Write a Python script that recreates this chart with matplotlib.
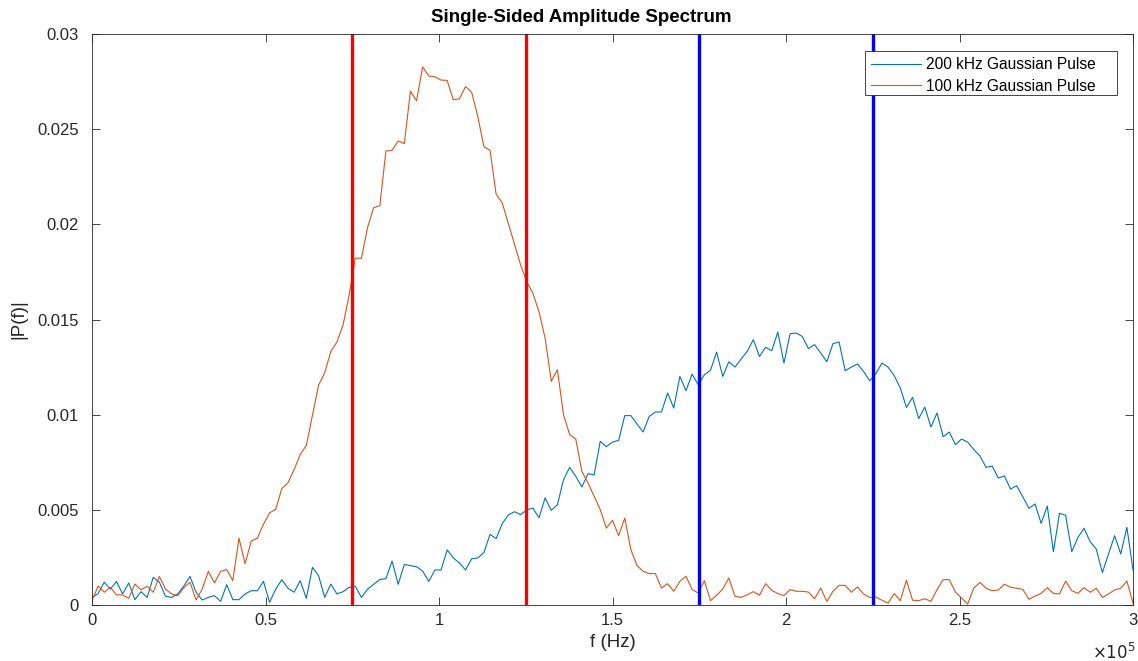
import numpy as np
import matplotlib
matplotlib.use("Agg")
import matplotlib.pyplot as plt
from matplotlib.patches import Rectangle

# ---- data ----
f_max = 3e5
n_bins = 170
freq = np.linspace(0, f_max, n_bins + 1)

pulse_200k = [
    0.0004, 0.0006, 0.0012, 0.00084, 0.00123, 0.00058, 0.00116, 0.00028, 0.0007, 0.0004,
    0.00145, 0.0012, 0.00046, 0.0004, 0.00058, 0.001, 0.0015, 0.00067, 0.00026, 0.0004,
    0.00049, 0.00019, 0.00107, 0.00028, 0.00028, 0.00058, 0.00075, 0.00075, 0.00124, 0.00014,
    0.00084, 0.00133, 0.00088, 0.00067, 0.00128, 0.00035, 0.00198, 0.00154, 0.0004, 0.0011,
    0.00058, 0.0007, 0.00093, 0.00098, 0.0004, 0.00083, 0.00109, 0.00134, 0.00138, 0.00231,
    0.00109, 0.00213, 0.00207, 0.00201, 0.00178, 0.00124, 0.00184, 0.00184, 0.0029, 0.00247,
    0.00221, 0.00184, 0.00243, 0.00247, 0.00276, 0.00371, 0.00349, 0.00428, 0.00474, 0.0049,
    0.00474, 0.005, 0.00509, 0.00458, 0.00563, 0.00497, 0.00527, 0.00658, 0.00723, 0.00676,
    0.0062, 0.0069, 0.00683, 0.0086, 0.00832, 0.00856, 0.00865, 0.00995, 0.00995, 0.00951,
    0.00909, 0.00991, 0.01014, 0.01014, 0.01114, 0.01035, 0.01201, 0.01126, 0.01213, 0.01157,
    0.0121, 0.01233, 0.01329, 0.01201, 0.01278, 0.0125, 0.01292, 0.01333, 0.01394, 0.01306,
    0.01354, 0.01336, 0.01434, 0.01271, 0.01425, 0.01429, 0.01411, 0.01347, 0.01368, 0.01324,
    0.01278, 0.01373, 0.01382, 0.01231, 0.0125, 0.01266, 0.01227, 0.01178, 0.01215, 0.01271,
    0.0125, 0.01205, 0.0114, 0.01038, 0.01091, 0.00979, 0.0104, 0.00935, 0.01009, 0.00884,
    0.00909, 0.00842, 0.00872, 0.00856, 0.00816, 0.00784, 0.00723, 0.0073, 0.00667, 0.00678,
    0.00609, 0.00627, 0.00569, 0.00508, 0.00531, 0.00429, 0.0052, 0.0028, 0.00482, 0.00471,
    0.0028, 0.00355, 0.00403, 0.00333, 0.00294, 0.0017, 0.00268, 0.00364, 0.00268, 0.00408,
    0.00184,
]

pulse_100k = [
    0.00023, 0.001, 0.00067, 0.00093, 0.00053, 0.00053, 0.00035, 0.0011, 0.0008, 0.00098,
    0.00067, 0.0015, 0.00084, 0.00058, 0.00049, 0.0009, 0.0012, 0.00026, 0.00084, 0.00177,
    0.00116, 0.00177, 0.00186, 0.00128, 0.00351, 0.00217, 0.00336, 0.00351, 0.00424, 0.00484,
    0.00503, 0.00612, 0.00642, 0.00711, 0.0079, 0.00839, 0.00997, 0.01155, 0.0122, 0.01332,
    0.01382, 0.01471, 0.0163, 0.01822, 0.01822, 0.01984, 0.02088, 0.02098, 0.02385, 0.02389,
    0.02438, 0.02424, 0.027, 0.02649, 0.02827, 0.02779, 0.02775, 0.02758, 0.02756, 0.02655,
    0.02659, 0.02724, 0.02694, 0.02566, 0.02408, 0.02389, 0.02158, 0.02112, 0.02004, 0.01895,
    0.01786, 0.01698, 0.01638, 0.0154, 0.01401, 0.01175, 0.01236, 0.01, 0.00895, 0.00872,
    0.00702, 0.00641, 0.00571, 0.00501, 0.00404, 0.00445, 0.00364, 0.00457, 0.00291, 0.00207,
    0.00177, 0.00165, 0.00165, 0.00089, 0.00112, 0.00072, 0.00124, 0.00151, 0.00081, 0.00063,
    0.00128, 0.00023, 0.00051, 0.00084, 0.00142, 0.00046, 0.0004, 0.00054, 0.0007, 0.00051,
    0.00112, 0.00077, 0.0006, 0.00049, 0.00081, 0.00072, 0.00072, 0.00068, 0.00033, 0.00089,
    0.00019, 0.00072, 0.00103, 0.00103, 0.00067, 0.00095, 0.00058, 0.0004, 0.00042, 0.00025,
    0.0001, 0.0006, 0.00023, 0.0013, 0.00025, 0.00023, 0.00033, 0.00019, 0.00081, 0.00133,
    0.00133, 0.00068, 0.00037, 0.00005, 0.00089, 0.00119, 0.00088, 0.00075, 0.00079, 0.00109,
    0.00093, 0.00088, 0.00082, 0.0003, 0.00047, 0.00061, 0.00091, 0.00061, 0.00058, 0.00126,
    0.00075, 0.00061, 0.00091, 0.00067, 0.00088, 0.0004, 0.00058, 0.00079, 0.00088, 0.00126,
    0.00009,
]

red_band = [75000, 125000]
blue_band = [175000, 225000]
series_labels = ["200 kHz Gaussian Pulse", "100 kHz Gaussian Pulse"]
xtick_vals = [0, 0.5, 1, 1.5, 2, 2.5, 3]
ytick_vals = [0, 0.005, 0.01, 0.015, 0.02, 0.025, 0.03]

# ---- figure ----
W, H = 1138, 661
plt.rcParams['font.family'] = ['Liberation Sans', 'DejaVu Sans']
fig = plt.figure(figsize=(W / 100, H / 100), dpi=100)
ax = fig.add_axes([92 / W, 56 / H, 1041 / W, 571 / H])

ax.plot(freq, pulse_200k, color='#0072BD', lw=0.8, label=series_labels[0])
ax.plot(freq, pulse_100k, color='#D95319', lw=0.8, label=series_labels[1])
for xv in red_band:
    ax.axvline(xv, color='#FF0000', lw=2.4)
for xv in blue_band:
    ax.axvline(xv, color='#0000FF', lw=2.4)

ax.set_xlim(0, f_max)
ax.set_ylim(0, 0.03)
ax.set_xticks([v * 1e5 for v in xtick_vals])
ax.set_xticklabels([f"{v:g}" for v in xtick_vals])
ax.set_yticks(ytick_vals)
ax.set_yticklabels([f"{v:g}" for v in ytick_vals])
ax.tick_params(direction='in', length=6, width=0.6, colors='#262626',
               labelsize=12, top=True, right=True)
ax.tick_params(axis='x', pad=6)
ax.tick_params(axis='y', pad=9.4)
for s in ax.spines.values():
    s.set_color('#262626')
    s.set_linewidth(0.6)

ax.text((1136 - 92) / 1041, (605 - 659) / 571, r'$\times10^{5}$', transform=ax.transAxes,
        ha='right', va='baseline', fontsize=12, color='#262626')

ax.set_xlabel('f (Hz)', fontsize=13.5, color='#262626', labelpad=4)
ax.set_ylabel('|P(f)|', fontsize=13.5, color='#262626', labelpad=7)
fig.text(581 / W, 1 - 18 / H, 'Single-Sided Amplitude Spectrum', fontsize=13.5,
         fontweight='bold', ha='center', va='center')

# legend box (MATLAB style, extra right padding)
box = Rectangle((865 / W, 1 - 95 / H), 252 / W, 44 / H, transform=fig.transFigure,
                facecolor='white', edgecolor='#262626', lw=0.6, zorder=4.5, clip_on=False)
ax.add_patch(box)
leg = ax.legend(loc='upper left', bbox_to_anchor=(871 / W, 1 - 57 / H),
                bbox_transform=fig.transFigure, fontsize=11.2, frameon=False,
                handlelength=3.2, borderpad=0, borderaxespad=0,
                labelspacing=0.42, handletextpad=0.35)
leg.set_zorder(5)

fig.savefig('out.png', dpi=100)
